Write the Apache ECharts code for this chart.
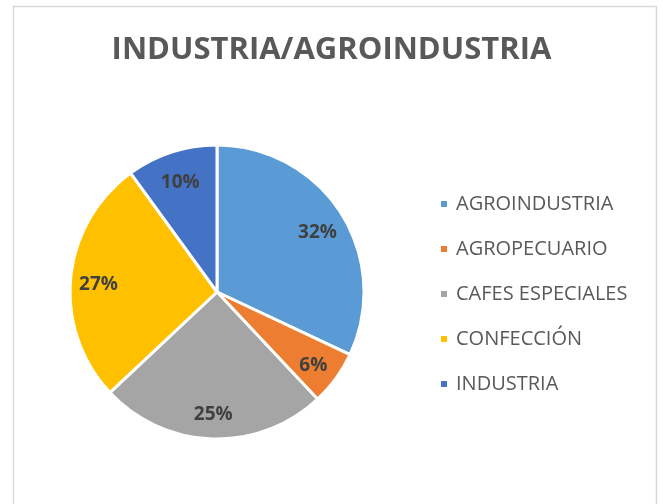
<!DOCTYPE html>
<html>
<head>
<meta charset="utf-8">
<script src="https://cdn.jsdelivr.net/npm/echarts@6/dist/echarts.min.js"></script>
<style>
html,body{margin:0;padding:0;background:#fff;}
#chart{width:663px;height:504px;}
</style>
</head>
<body>
<div id="chart"></div>
<script>
const categories = ['AGROINDUSTRIA', 'AGROPECUARIO', 'CAFES ESPECIALES', 'CONFECCIÓN', 'INDUSTRIA'];
const values = [32, 6, 25, 27, 10];
const colors = ['#5B9BD5', '#ED7D31', '#A5A5A5', '#FFC000', '#4472C4'];
const titleText = 'INDUSTRIA/AGROINDUSTRIA';

const data = categories.map((c, i) => ({ name: c, value: values[i], itemStyle: { color: colors[i] } }));

const chart = echarts.init(document.getElementById('chart'), null, { renderer: 'canvas' });
chart.setOption({
  backgroundColor: '#fff',
  animation: false,
  graphic: [{
    type: 'rect',
    shape: { x: 13.5, y: 6.5, width: 643, height: 520 },
    style: { fill: 'none', stroke: '#d9d9d9', lineWidth: 1.5 },
    silent: true
  }],
  title: {
    text: titleText,
    left: 'center',
    top: 30,
    textStyle: { fontFamily: 'Open Sans', fontWeight: 'bold', fontSize: 31, color: '#595959' }
  },
  legend: {
    orient: 'vertical',
    left: 434,
    top: 188,
    itemWidth: 8,
    itemHeight: 8,
    itemGap: 23,
    icon: 'rect',
    textStyle: { fontFamily: 'Open Sans', fontSize: 20, color: '#595959', lineHeight: 22, padding: [0, 0, 0, 3] },
    data: categories
  },
  series: [{
    type: 'pie',
    center: [217, 292],
    radius: 147,
    startAngle: 90,
    clockwise: true,
    data: data,
    label: { show: false },
    labelLine: { show: false },
    itemStyle: { borderColor: '#fff', borderWidth: 3 },
    emphasis: { disabled: true }
  }, {
    type: 'pie',
    center: [217, 292],
    radius: [85, 147],
    startAngle: 90,
    clockwise: true,
    silent: true,
    data: data.map(d => ({ name: d.name, value: d.value })),
    itemStyle: { color: 'rgba(0,0,0,0)' },
    label: {
      show: true,
      position: 'inside',
      offset: [0, 4],
      formatter: p => p.value + '%',
      fontFamily: 'Open Sans',
      fontWeight: 'bold',
      fontSize: 19,
      color: '#404040'
    },
    labelLine: { show: false },
    emphasis: { disabled: true },
    legendHoverLink: false
  }]
});
</script>
</body>
</html>
